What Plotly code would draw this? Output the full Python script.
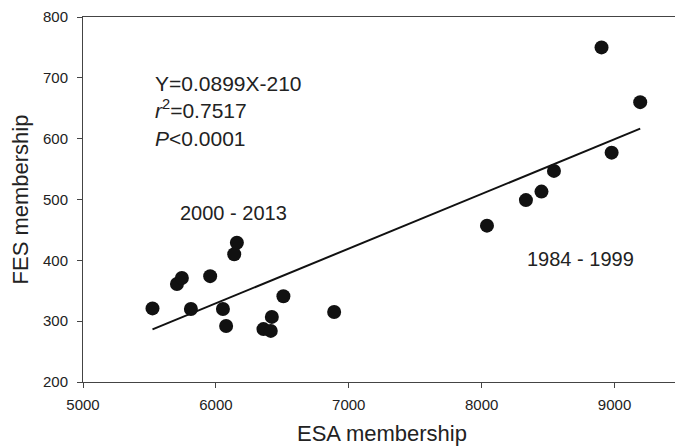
import plotly.graph_objects as go

# Data
esa = [5523, 5812, 5707, 5744, 5957, 6138, 6158, 6053, 6077, 6358, 6413,
       6421, 6508, 6890, 8040, 8333, 8450, 8544, 8902, 9193, 8978]
fes = [321, 320, 361, 371, 374, 410, 429, 320, 292, 287, 284,
       307, 341, 315, 457, 499, 513, 547, 750, 660, 577]

slope = 0.0899
intercept = -210

x_ticks = [5000, 6000, 7000, 8000, 9000]
y_ticks = [200, 300, 400, 500, 600, 700, 800]

fit_x = [min(esa), max(esa)]
fit_y = [slope * v + intercept for v in fit_x]

FONT = "Liberation Sans, Arial, sans-serif"

fig = go.Figure()
fig.add_trace(go.Scatter(x=fit_x, y=fit_y, mode="lines",
                         line=dict(color="#111111", width=2), showlegend=False))
fig.add_trace(go.Scatter(x=esa, y=fes, mode="markers",
                         marker=dict(color="#111111", size=14), showlegend=False))

stat_font = dict(family=FONT, size=21, color="#222222")
ann_font = dict(family=FONT, size=20, color="#222222")
fig.add_annotation(x=5526, y=645,
                   text="Y=0.0899X-210<br><i>r</i><sup>2</sup>=0.7517<br><i>P</i>&lt;0.0001",
                   showarrow=False, align="left",
                   xanchor="left", yanchor="middle", font=stat_font)
fig.add_annotation(x=6135, y=478, text="2000 - 2013", showarrow=False,
                   xanchor="center", yanchor="middle", font=ann_font)
fig.add_annotation(x=8743, y=402, text="1984 - 1999", showarrow=False,
                   xanchor="center", yanchor="middle", font=ann_font)

axis_common = dict(showgrid=False, zeroline=False, showline=True, mirror=True,
                   linecolor="#444444", linewidth=1, ticks="outside", ticklen=5,
                   tickcolor="#444444", automargin=False,
                   tickfont=dict(family=FONT, size=15, color="#222222"))

fig.update_xaxes(range=[5000, 9500], tickvals=x_ticks, ticklabelstandoff=4,
                 title=dict(text="ESA membership", font=dict(family=FONT, size=22, color="#222222"),
                            standoff=14),
                 **axis_common)
fig.update_yaxes(range=[200, 800], tickvals=y_ticks, ticklabelstandoff=6,
                 title=dict(text="FES membership", font=dict(family=FONT, size=22, color="#222222"),
                            standoff=12),
                 **axis_common)

# The page body has an 8px margin, so the figure is drawn 8px smaller to fill the window
fig.update_layout(width=675, height=438, plot_bgcolor="white", paper_bgcolor="white",
                  margin=dict(l=75, r=2, t=9, b=64))

fig.write_html("out.html")
